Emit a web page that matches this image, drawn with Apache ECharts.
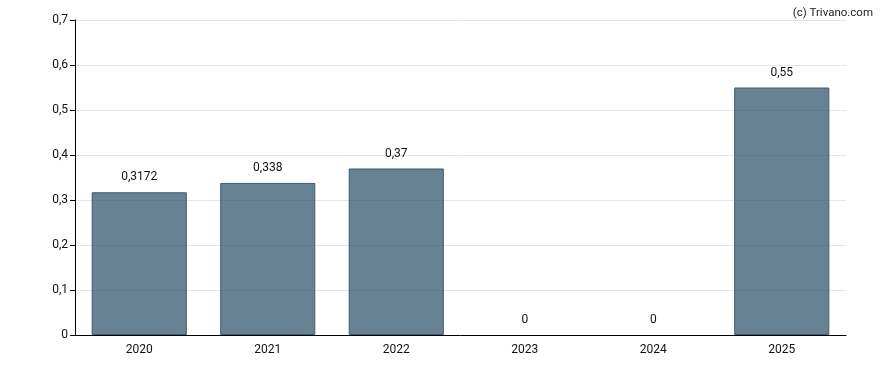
<!DOCTYPE html>
<html><head><meta charset="utf-8">
<script src="https://cdn.jsdelivr.net/npm/echarts@6/dist/echarts.min.js"></script>
<style>html,body{margin:0;padding:0;background:#fff}#c{width:888px;height:370px}</style>
</head><body><div id="c"></div>
<script>
const categories = ['2020','2021','2022','2023','2024','2025'];
const values = [0.3172, 0.338, 0.37, 0, 0, 0.55];
const yTicks = { min: 0, max: 0.7, interval: 0.1 };

const fmt = v => String(v).replace('.', ',');
const chart = echarts.init(document.getElementById('c'));
chart.setOption({
  animation: false,
  textStyle: { fontFamily: 'Roboto' },
  title: { text: '(c) Trivano.com', right: 10, top: 2, textStyle: { fontSize: 11.5, fontWeight: 'normal', color: '#222', fontFamily: 'Roboto' } },
  grid: { left: 75, right: 42, top: 20, bottom: 35 },
  xAxis: {
    type: 'category', data: categories,
    axisLine: { lineStyle: { color: '#000' } },
    axisTick: { show: false },
    axisLabel: { color: '#111', fontSize: 12, margin: 9 }
  },
  yAxis: {
    type: 'value', min: yTicks.min, max: yTicks.max, interval: yTicks.interval,
    axisLine: { show: true, lineStyle: { color: '#000' } },
    axisTick: { show: true, length: 5, lineStyle: { color: '#000' } },
    splitLine: { lineStyle: { color: '#e6e6e6' } },
    axisLabel: { color: '#111', fontSize: 12, margin: 7, formatter: v => fmt(+v.toFixed(1)) }
  },
  series: [{
    type: 'bar', barWidth: '74%',
    data: values.map(v => v === 0 ? { value: v, itemStyle: { borderWidth: 0 } } : v),
    itemStyle: { color: 'rgba(45,82,104,0.72)', borderColor: '#3d5a6e', borderWidth: 1 },
    label: { show: true, position: 'top', distance: 9, color: '#111', fontSize: 12, formatter: p => fmt(p.value) }
  }]
});
</script></body></html>
